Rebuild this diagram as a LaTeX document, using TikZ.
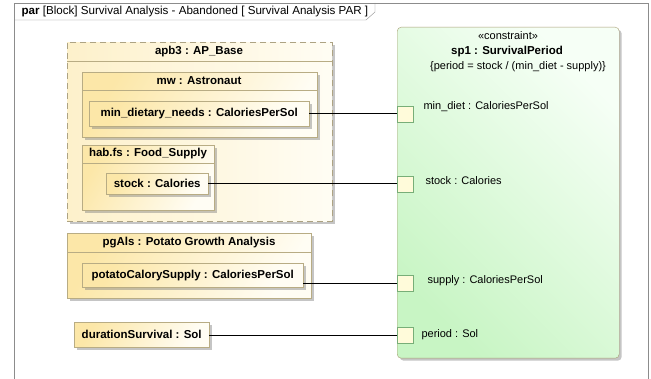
\documentclass[tikz,border=0pt]{standalone}
\usepackage{fontspec}
\setmainfont{Liberation Sans}
\usetikzlibrary{shadows}
\definecolor{frameline}{HTML}{8C8C8C}
\definecolor{partline}{HTML}{B8AC84}
\definecolor{partdark}{HTML}{FCE7A8}
\definecolor{partlight}{HTML}{FFFDF4}
\definecolor{cstline}{HTML}{A89E74}
\definecolor{cstdark}{HTML}{C8F5C4}
\definecolor{cstlight}{HTML}{F6FFF6}
\definecolor{portline}{HTML}{78AE78}
\definecolor{portfill}{HTML}{FFFBDA}
\newcommand{\bfsz}{\fontsize{11.5}{13}\bfseries\selectfont}
\newcommand{\nmsz}{\fontsize{11}{13}\selectfont}
\newcommand{\compline}[2]% block node, y of the line
{(#1.west |- 0,#2) -- (#1.east |- 0,#2)
}

\begin{document}
\begin{tikzpicture}[x=1pt,y=-1pt,
  box/.style={draw=partline, anchor=north west, inner sep=0pt,
    left color=partdark, right color=partlight, shading angle=60,
    drop shadow={shadow xshift=2.5pt, shadow yshift=-2.5pt, opacity=0.45}},
  valuebox/.style={box, font=\bfsz},
  port/.style={draw=portline, fill=portfill, anchor=north west,
    minimum width=16, minimum height=16, inner sep=0pt},
  plabel/.style={anchor=west, font=\nmsz},
  title/.style={font=\bfsz}]
  \useasboundingbox (0,0) rectangle (651,379);
  \fill[white] (0,0) rectangle (651,379);
  % frame
  \draw[frameline] (14,379) -- (14,3) -- (648,3) -- (648,379);
  \draw[frameline] (14,20) -- (366,20) -- (375,12) -- (375,3);
  \node[anchor=west, font=\fontsize{11.6}{13}\selectfont] (frametitle) at (18,12)
    {\textbf{par} [Block] Survival Analysis - Abandoned [ Survival Analysis PAR ]};
  % constraint block
  \node[draw=cstline, anchor=north west, rounded corners=4pt,
    left color=cstdark, right color=cstlight, shading angle=135,
    drop shadow={shadow xshift=2.5pt, shadow yshift=-2.5pt, opacity=0.45},
    minimum width=222, minimum height=331, inner sep=0pt] (sp) at (397,27) {};
  \node[font=\nmsz] (stereo) at (508,36) {«constraint»};
  \node[title] (spname) at (507,52) {sp1 : SurvivalPeriod};
  \node[font=\nmsz] (spexpr) at (518,67) {\{period = stock / (min\_diet - supply)\}};
  \node[port] (pmin) at (397,106) {};
  \node[port] (pstock) at (397,176) {};
  \node[port] (psupply) at (397,275) {};
  \node[port] (pperiod) at (397,327) {};
  \node[plabel] at (420,107) {min\_diet : CaloriesPerSol};
  \node[plabel] at (422,181) {stock : Calories};
  \node[plabel] at (424,281) {supply : CaloriesPerSol};
  \node[plabel] at (418,335) {period : Sol};
  % apb3
  \node[box, dashed, draw=partline!80!gray, dash pattern=on 6pt off 4pt,
    left color=partdark!60!white, right color=partlight,
    minimum width=265, minimum height=179] (apb) at (67,42) {};
  \node[title] at (199,52) {apb3 : AP\_Base};
  \draw[partline] \compline{apb}{61};
  \node[box, minimum width=235, minimum height=65] (mw) at (82,72) {};
  \node[title] at (199,81) {mw : Astronaut};
  \draw[partline] \compline{mw}{90};
  \node[valuebox, minimum width=220, minimum height=25] (needs) at (89,101)
    {min\_dietary\_needs : CaloriesPerSol};
  \node[box, minimum width=132, minimum height=65] (habfs) at (82,145) {};
  \node[title] at (148,154) {hab.fs : Food\_Supply};
  \draw[partline] \compline{habfs}{163};
  \node[valuebox, minimum width=102, minimum height=21] (stock) at (106,173)
    {stock : Calories};
  % pgAls
  \node[box, minimum width=244, minimum height=65] (pgals) at (67,233) {};
  \node[title] at (189,243) {pgAls : Potato Growth Analysis};
  \draw[partline] \compline{pgals}{252};
  \node[valuebox, minimum width=221, minimum height=24] (potato) at (82,263)
    {potatoCalorySupply : CaloriesPerSol};
  \node[valuebox, minimum width=135, minimum height=25] (duration) at (74,322)
    {durationSurvival : Sol};
  % connectors
  \draw (needs.east) -- (needs.east -| pmin.west);
  \draw (stock.east) -- (stock.east -| pstock.west);
  \draw (psupply.west) -- (psupply.west -| potato.east);
  \draw (pperiod.west) -- (pperiod.west -| duration.east);
\end{tikzpicture}
\end{document}
